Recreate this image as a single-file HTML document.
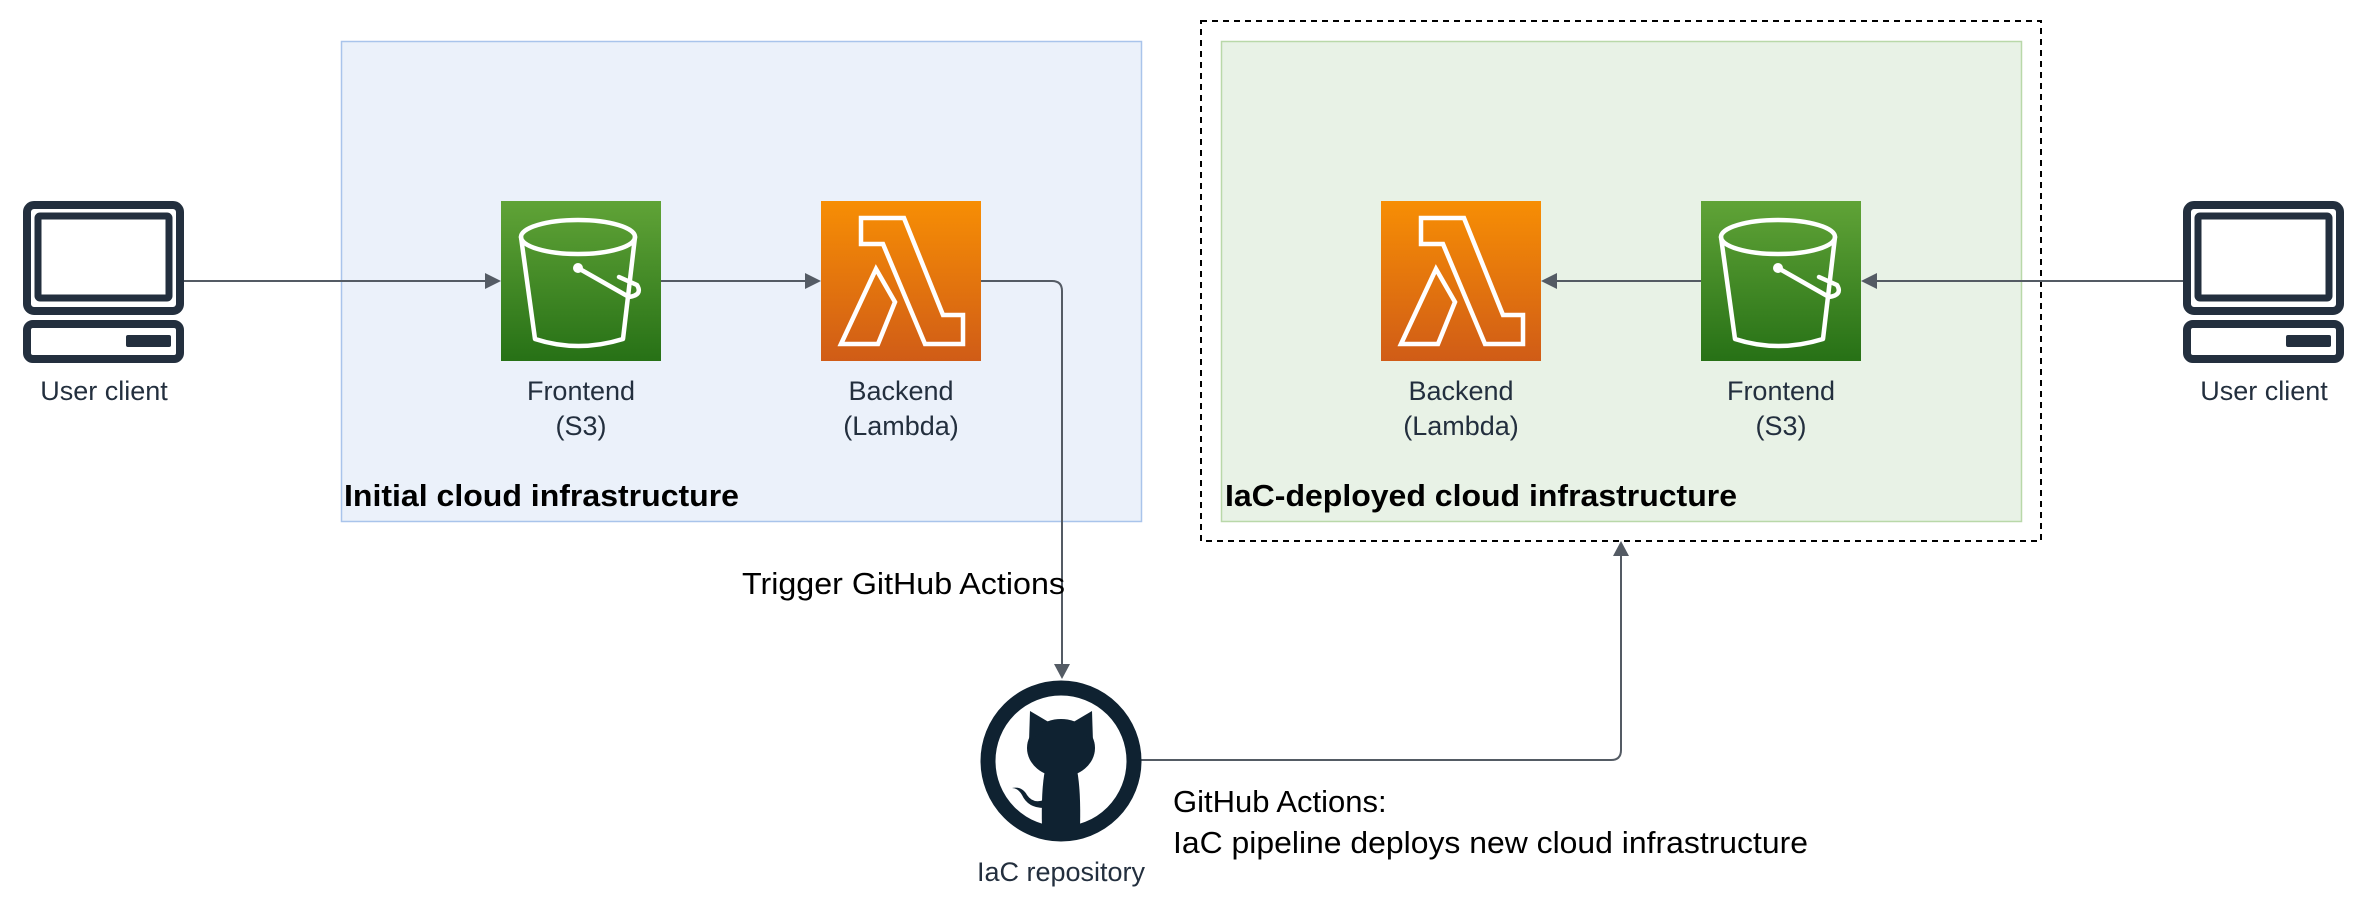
<!DOCTYPE html>
<html><head><meta charset="utf-8"><style>
html,body{margin:0;padding:0;background:#fff;}
svg{display:block;}
text{font-family:"Liberation Sans",Arial,sans-serif;}
</style></head><body>
<svg width="2368" height="910" viewBox="0 0 2368 910" xmlns="http://www.w3.org/2000/svg">
<defs>
<linearGradient id="gS3" x1="0" y1="0" x2="0" y2="1"><stop offset="0" stop-color="#60A337"/><stop offset="1" stop-color="#277116"/></linearGradient>
<linearGradient id="gL" x1="0" y1="0" x2="0" y2="1"><stop offset="0" stop-color="#F78E04"/><stop offset="1" stop-color="#D05C17"/></linearGradient>
<g id="s3">
<rect width="160" height="160" fill="url(#gS3)"/>
<g fill="none" stroke="#fff" stroke-width="4.5" stroke-linecap="round" stroke-linejoin="round">
<ellipse cx="77" cy="36" rx="57" ry="17"/>
<path d="M20 36 L34 138 Q77 152 122 138 L134 36"/>
<path d="M77 67 L128 96 Q142 94 136 84 L118 76"/>
</g>
<circle cx="77" cy="67" r="5" fill="#fff"/>
</g>
<g id="lam">
<rect width="160" height="160" fill="url(#gL)"/>
<g fill="none" stroke="#fff" stroke-width="4.5" stroke-linejoin="miter">
<path d="M40 17 H83 L122 114 H142 V143 H104 L62 43 H40 Z"/>
<path d="M55 68 L74 101 L57 143 H20 Z"/>
</g>
</g>
<g id="pc" fill="none" stroke="#232F3E">
<rect x="4" y="4" width="153" height="106" rx="7" stroke-width="8"/>
<rect x="15" y="15" width="131" height="82" rx="2" stroke-width="7"/>
<rect x="4" y="123" width="153" height="35" rx="6" stroke-width="8"/>
<rect x="103" y="134" width="45" height="12" rx="2" fill="#232F3E" stroke="none"/>
</g>
</defs>

<rect x="341.5" y="41.5" width="800" height="480" fill="#EBF1FA" stroke="#A9C4EB" stroke-width="1.5"/>
<rect x="1201" y="21" width="840" height="520" fill="none" stroke="#000" stroke-width="2" stroke-dasharray="6,5"/>
<rect x="1221.5" y="41.5" width="800" height="480" fill="#E8F2E6" stroke="#B9D8A9" stroke-width="1.5"/>

<g stroke="#545B64" stroke-width="2" fill="none">
<line x1="184" y1="281" x2="498" y2="281"/>
<line x1="661" y1="281" x2="818" y2="281"/>
<path d="M981 281 H1052 Q1062 281 1062 291 V676"/>
<line x1="2183" y1="281" x2="1864" y2="281"/>
<line x1="1701" y1="281" x2="1544" y2="281"/>
<path d="M1141 760 H1611 Q1621 760 1621 750 V544"/>
</g>
<g fill="#545B64">
<path d="M501 281 L485 273 L485 289 Z"/>
<path d="M821 281 L805 273 L805 289 Z"/>
<path d="M1062 679 L1054 664 L1070 664 Z"/>
<path d="M1861 281 L1877 273 L1877 289 Z"/>
<path d="M1541 281 L1557 273 L1557 289 Z"/>
<path d="M1621 541 L1613 556 L1629 556 Z"/>
</g>

<use href="#pc" x="23" y="201"/>
<use href="#pc" x="2183" y="201"/>
<use href="#s3" x="501" y="201"/>
<use href="#lam" x="821" y="201"/>
<use href="#lam" x="1381" y="201"/>
<use href="#s3" x="1701" y="201"/>

<circle cx="1061" cy="761" r="73" fill="#fff" stroke="#0F2231" stroke-width="15"/>
<g fill="#0F2231">
<ellipse cx="1061" cy="748" rx="34" ry="29"/>
<path d="M1029 742 L1030 711 L1052 724 Z"/>
<path d="M1093 742 L1092 711 L1070 724 Z"/>
<path d="M1045 770 H1077 Q1081 790 1080 828 H1042 Q1041 790 1045 770 Z"/>
<path d="M1044 808 Q1028 808 1022 795 Q1018 788 1012 788 Q1022 786 1027 795 Q1033 804 1044 800 Z"/>
</g>

<g font-size="27" fill="#232F3E" text-anchor="middle">
<text x="104" y="400">User client</text>
<text x="581" y="400">Frontend</text><text x="581" y="435">(S3)</text>
<text x="901" y="400">Backend</text><text x="901" y="435">(Lambda)</text>
<text x="1461" y="400">Backend</text><text x="1461" y="435">(Lambda)</text>
<text x="1781" y="400">Frontend</text><text x="1781" y="435">(S3)</text>
<text x="2264" y="400">User client</text>
<text x="1061" y="881">IaC repository</text>
</g>
<g font-size="31" font-weight="bold" fill="#000" textLength="0">
<text x="344" y="506" textLength="395" lengthAdjust="spacingAndGlyphs">Initial cloud infrastructure</text>
<text x="1225" y="506" textLength="512" lengthAdjust="spacingAndGlyphs">IaC-deployed cloud infrastructure</text>
</g>
<g font-size="31" fill="#000">
<text x="742" y="594" textLength="323" lengthAdjust="spacingAndGlyphs">Trigger GitHub Actions</text>
<text x="1173" y="812">GitHub Actions:</text>
<text x="1173" y="853" textLength="635" lengthAdjust="spacingAndGlyphs">IaC pipeline deploys new cloud infrastructure</text>
</g>
</svg>
</body></html>
